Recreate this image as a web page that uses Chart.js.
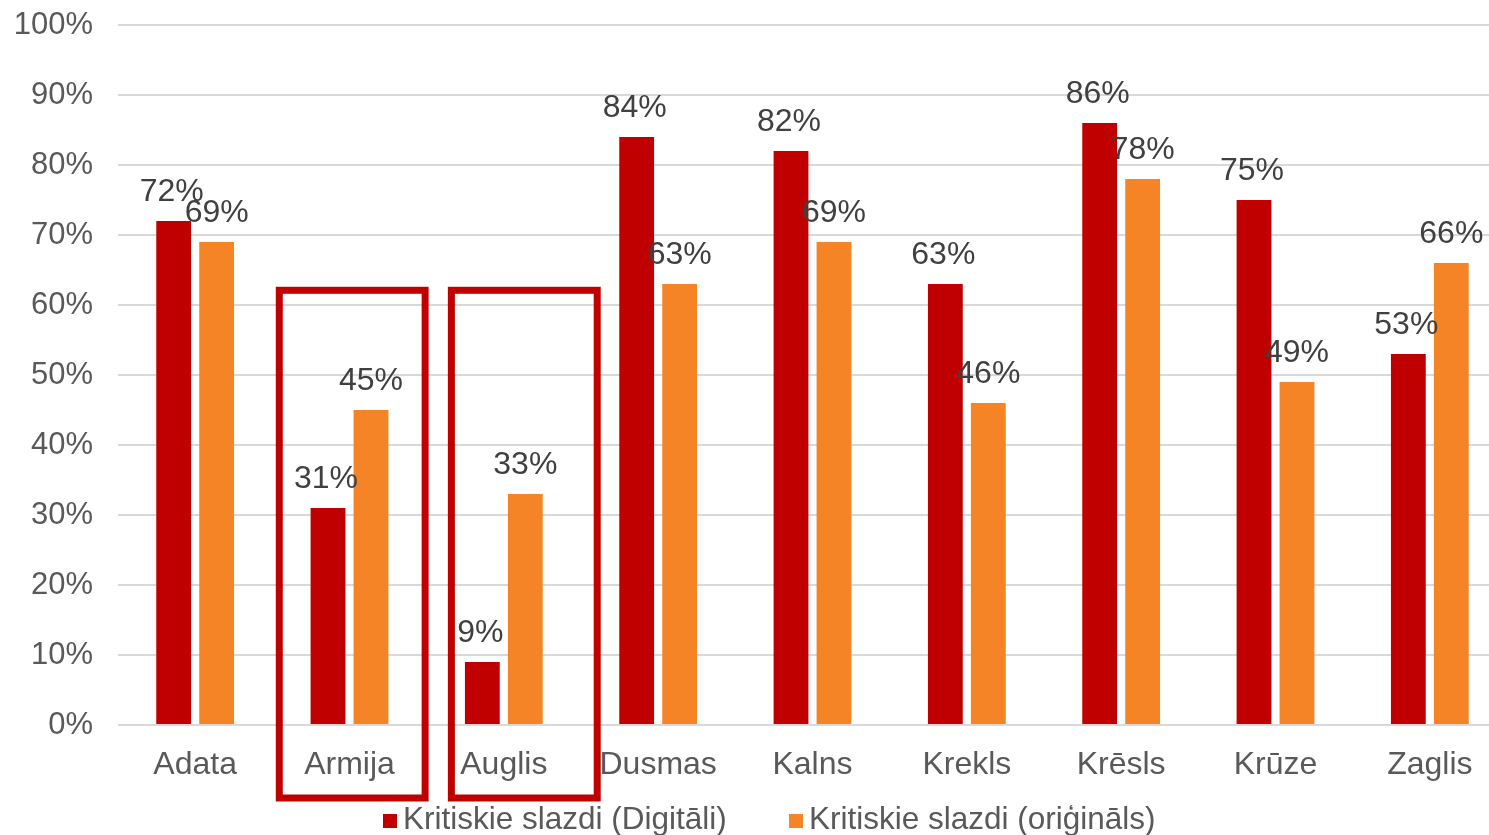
<!DOCTYPE html>
<html>
<head>
<meta charset="utf-8">
<script src="https://cdn.jsdelivr.net/npm/chart.js@4.4.1/dist/chart.umd.min.js"></script>
<style>
  html, body { margin: 0; padding: 0; background: #fff; overflow: hidden; }
  #wrap { position: relative; width: 1540px; height: 835px; }
  #legend { position: absolute; left: 0; top: 800px; width: 1540px; height: 35px;
            font-family: 'Liberation Sans', Arial, Helvetica, sans-serif; font-size: 31.5px; color: #595959; }
  .item { position: absolute; top: 0; white-space: nowrap; line-height: 36px; }
  .swatch { display: inline-block; width: 14px; height: 14px; margin-right: 6px; vertical-align: 1px; }
</style>
</head>
<body>
<div id="wrap">
  <canvas id="chart" width="1540" height="835"></canvas>
  <div id="legend"></div>
</div>
<script>
// Chart data
const categories = ['Adata', 'Armija', 'Auglis', 'Dusmas', 'Kalns', 'Krekls', 'Krēsls', 'Krūze', 'Zaglis'];
const digitalValues = [72, 31, 9, 84, 82, 63, 86, 75, 53];
const originalValues = [69, 45, 33, 63, 69, 46, 78, 49, 66];
const digitalLabel = 'Kritiskie slazdi (Digitāli)';
const originalLabel = 'Kritiskie slazdi (oriģināls)';
const highlighted = ['Armija', 'Auglis'];

const FONT = "'Liberation Sans', Arial, Helvetica, sans-serif";
const RED = '#C00000';
const ORANGE = '#F58426';

// Value labels above each bar
const valueLabels = {
  id: 'valueLabels',
  afterDatasetsDraw(chart) {
    const ctx = chart.ctx;
    ctx.save();
    ctx.font = '32px ' + FONT;
    ctx.fillStyle = '#404040';
    ctx.textAlign = 'center';
    ctx.textBaseline = 'alphabetic';
    chart.data.datasets.forEach((ds, i) => {
      chart.getDatasetMeta(i).data.forEach((bar, j) => {
        ctx.fillText(ds.data[j] + '%', bar.x - (i === 0 ? 2 : 0), bar.y - 20);
      });
    });
    ctx.restore();
  }
};

// Red frames round the highlighted categories
const highlightBoxes = {
  id: 'highlightBoxes',
  afterDraw(chart) {
    const ctx = chart.ctx;
    const x = chart.scales.x;
    const y = chart.scales.y;
    const step = x.getPixelForValue(1) - x.getPixelForValue(0);
    const shifts = [[-0.455, 0.49], [-0.34, 0.605]];
    ctx.save();
    ctx.strokeStyle = RED;
    ctx.lineWidth = 7;
    highlighted.forEach((name, k) => {
      const cx = x.getPixelForValue(categories.indexOf(name));
      const left = cx + shifts[k][0] * step;
      const right = cx + shifts[k][1] * step;
      const top = y.getPixelForValue(62.1);
      const bottom = chart.chartArea.bottom + 73;
      ctx.strokeRect(left, top, right - left, bottom - top);
    });
    ctx.restore();
  }
};

// Legend built from the dataset labels
function buildLegend(chart) {
  const legend = document.getElementById('legend');
  const lefts = [383, 789];
  chart.data.datasets.forEach((ds, i) => {
    const item = document.createElement('span');
    item.className = 'item';
    item.style.left = lefts[i] + 'px';
    item.innerHTML = '<span class="swatch" style="background:' + ds.backgroundColor + '"></span>' + ds.label;
    legend.appendChild(item);
  });
}

const ctx = document.getElementById('chart').getContext('2d');
const chart = new Chart(ctx, {
  type: 'bar',
  data: {
    labels: categories,
    datasets: [
      {
        label: digitalLabel,
        data: digitalValues,
        backgroundColor: RED,
        categoryPercentage: 0.557,
        barPercentage: 0.81,
      },
      {
        label: originalLabel,
        data: originalValues,
        backgroundColor: ORANGE,
        categoryPercentage: 0.557,
        barPercentage: 0.81,
      },
    ],
  },
  options: {
    responsive: false,
    animation: false,
    devicePixelRatio: 1,
    layout: { padding: { top: 25, right: 33, left: 0, bottom: 46 } },
    plugins: {
      tooltip: { enabled: false },
      legend: { display: false },
    },
    scales: {
      x: {
        grid: { display: false },
        border: { display: false },
        ticks: {
          color: '#595959',
          font: { family: FONT, size: 32 },
          padding: 13,
          maxRotation: 0,
        },
        afterFit: (scale) => { scale.height = 64; },
      },
      y: {
        min: 0,
        max: 100,
        grid: { color: '#D9D9D9', lineWidth: 2, drawTicks: false },
        border: { display: false },
        ticks: {
          stepSize: 10,
          color: '#595959',
          font: { family: FONT, size: 31 },
          padding: 25,
          callback: (v) => v + '%',
        },
        afterFit: (scale) => {
          scale.width = 118;
          scale.paddingTop = 0;
          scale.paddingBottom = 0;
        },
      },
    },
  },
  plugins: [valueLabels, highlightBoxes],
});
buildLegend(chart);
</script>
</body>
</html>
